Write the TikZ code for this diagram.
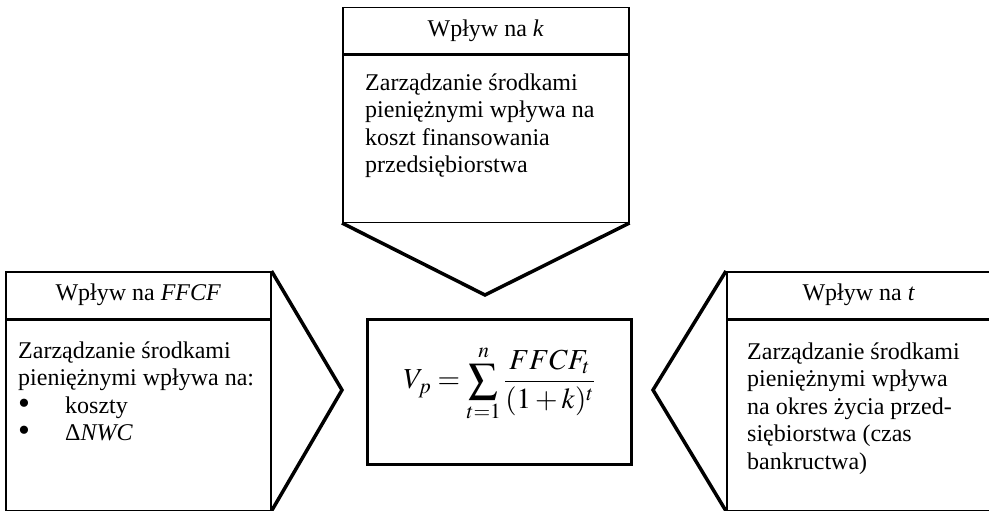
\documentclass[tikz,border=0pt]{standalone}
\usepackage{mathptmx}
\usepackage{fontspec}
\setmainfont{Liberation Serif}
\usepackage{tikz}
\usetikzlibrary{positioning,calc}

\newcommand{\bigdot}{\makebox[47pt][l]{\raisebox{-1pt}{\fontsize{34}{0}\selectfont\textbullet}}}

\begin{document}
\begin{tikzpicture}[
  x=1pt,y=-1pt,
  font=\fontsize{24}{27.5}\selectfont,
  head/.style={draw,line width=1.5pt,inner sep=0pt,anchor=north west,minimum height=47pt},
  panel/.style={draw,line width=1.5pt,inner sep=0pt,minimum height=#1},
  body/.style={align=left,anchor=north west,inner sep=0pt},
  chev/.style={line width=3.5pt,line join=miter}
]
\useasboundingbox (0,0) rectangle (989,511);

% top panel: influence on k
\node[head,minimum width=286pt,minimum height=46pt] (khead) at (342,7) {Wpływ na \textit{k}};
\node[panel=167pt,minimum width=286pt,below=0pt of khead] (kbox) {};
\node[body] (ktext) at ([xshift=23pt,yshift=-19pt]kbox.north west)
  {Zarządzanie środkami\\pieniężnymi wpływa na\\koszt finansowania\\przedsiębiorstwa};

% left panel: influence on FFCF
\node[head,minimum width=265pt] (fhead) at (5,271) {Wpływ na \textit{FFCF}};
\node[panel=190pt,minimum width=265pt,below=0pt of fhead] (fbox) {};
\node[body] (ftext) at ([xshift=13pt,yshift=-22pt]fbox.north west)
  {Zarządzanie środkami\\pieniężnymi wpływa na:\\
   \bigdot koszty\\
   \bigdot Δ\textit{NWC}};

% right panel: influence on t
\node[head,minimum width=264pt] (thead) at (726,271) {Wpływ na \textit{t}};
\node[panel=190pt,minimum width=264pt,below=0pt of thead] (tbox) {};
\node[body] (ttext) at ([xshift=21pt,yshift=-23pt]tbox.north west)
  {Zarządzanie środkami\\pieniężnymi wpływa\\na okres życia przed-\\siębiorstwa (czas\\bankructwa)};

% value of the firm
\node[draw,line width=2.5pt,minimum width=264pt,minimum height=145pt,inner sep=0pt,anchor=north west] (vbox) at (366,318) {};
\node[font=\fontsize{29}{32}\selectfont] (vform) at ([yshift=8pt]vbox.center)
  {$\displaystyle V_p=\sum_{t=1}^{n}\frac{FFCF_t}{(1+k)^t}$};

% chevrons pointing at the value box
\coordinate (ktip) at (485,295);
\coordinate (ftip) at (342,390);
\coordinate (ttip) at (653,390);
\draw[chev] (kbox.south west) -- (ktip) -- (kbox.south east);
\draw[chev] (fhead.north east) -- (ftip) -- (fbox.south east);
\draw[chev] (thead.north west) -- (ttip) -- (tbox.south west);
\end{tikzpicture}
\end{document}
